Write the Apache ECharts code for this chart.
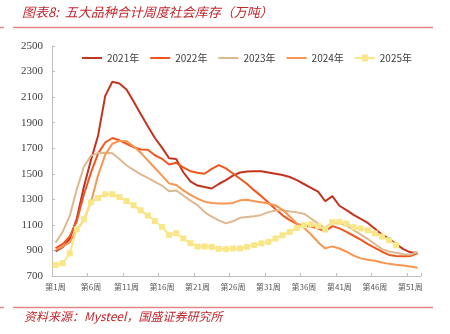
<!DOCTYPE html>
<html>
<head>
<meta charset="utf-8">
<script src="https://cdn.jsdelivr.net/npm/echarts@6/dist/echarts.min.js"></script>
<style>
html,body{margin:0;padding:0;background:#fff;}
#c{width:450px;height:334px;}
</style>
</head>
<body>
<div id="c"></div>
<script>
var weeks = [];
for (var i = 1; i <= 52; i++) weeks.push('第' + i + '周');

var seriesNames = ['2021年', '2022年', '2023年', '2024年', '2025年'];
var yTicks = {min: 700, max: 2500, step: 200};

var s2021 = [893, 925, 990, 1150, 1400, 1610, 1800, 2110, 2220, 2207,
  2160, 2065, 1968, 1872, 1780, 1705, 1622, 1615, 1512, 1440,
  1408, 1396, 1385, 1420, 1450, 1486, 1510, 1518, 1520, 1520,
  1510, 1500, 1490, 1475, 1450, 1420, 1390, 1360, 1285, 1325,
  1250, 1215, 1178, 1148, 1115, 1070, 1025, 990, 950, 910,
  885, 880];
var s2022 = [918, 950, 1010, 1130, 1340, 1510, 1660, 1745, 1780, 1762,
  1735, 1708, 1690, 1688, 1645, 1617, 1572, 1586, 1550, 1520,
  1508, 1500, 1538, 1568, 1542, 1502, 1461, 1420, 1370, 1325,
  1275, 1222, 1175, 1137, 1108, 1094, 1088, 1072, 1050, 1090,
  1073, 1045, 1015, 985, 950, 920, 890, 865, 857, 855,
  856, 877];
var s2023 = [960, 1045, 1170, 1380, 1555, 1642, 1662, 1664, 1660, 1615,
  1565, 1530, 1495, 1468, 1437, 1408, 1363, 1370, 1330, 1290,
  1255, 1200, 1165, 1135, 1112, 1128, 1155, 1162, 1167, 1178,
  1200, 1212, 1214, 1205, 1198, 1188, 1150, 1110, 1075, 1120,
  1112, 1095, 1058, 1025, 990, 950, 910, 892, 882, 870,
  867, 888];
var s2024 = [905, 930, 965, 1060, 1140, 1280, 1490, 1650, 1735, 1758,
  1755, 1715, 1665, 1605, 1545, 1485, 1425, 1412, 1370, 1335,
  1305, 1282, 1272, 1267, 1268, 1272, 1292, 1296, 1285, 1278,
  1268, 1252, 1218, 1165, 1112, 1078, 1025, 965, 916, 932,
  915, 890, 860, 838, 828, 820, 805, 795, 788, 782,
  775, 765];
var s2025 = [786, 800, 877, 1066, 1144, 1276, 1310, 1340, 1340, 1318,
  1287, 1253, 1214, 1173, 1131, 1084, 1022, 1035, 994, 957,
  931, 931, 928, 913, 910, 916, 916, 928, 941, 955,
  967, 994, 1019, 1045, 1076, 1097, 1105, 1090, 1064, 1123,
  1123, 1110, 1082, 1072, 1058, 1033, 1009, 980, 941];

var colors = ['#C3331E', '#F0571F', '#DDB891', '#F8964F', '#F8E688'];
var allData = [s2021, s2022, s2023, s2024, s2025];

var lineIcon = 'path://M0,3.1L20,3.1L20,4.9L0,4.9Z M0,0L0.01,0L0.01,0.01Z M19.99,8L20,8L20,7.99Z';
var markIcon = 'path://M0,3.1L20,3.1L20,4.9L0,4.9Z M7,0.5L13,0.5L13,7.5L7,7.5Z M0,0L0.01,0L0.01,0.01Z M19.99,8L20,8L20,7.99Z';

var series = allData.map(function (d, k) {
  var isLast = k === 4;
  return {
    name: seriesNames[k],
    type: 'line',
    data: d,
    symbol: isLast ? 'rect' : 'none',
    symbolSize: 6,
    showSymbol: isLast,
    showAllSymbol: true,
    smooth: false,
    lineStyle: {width: 2, color: colors[k]},
    itemStyle: {color: colors[k]},
    z: isLast ? 5 : 2 + k * 0.1
  };
});

var chart = echarts.init(document.getElementById('c'), null, {renderer: 'canvas'});
chart.setOption({
  animation: false,
  backgroundColor: '#ffffff',
  color: colors,
  grid: {left: 52, right: 29, top: 46, bottom: 58, containLabel: false},
  legend: {
    top: 48, left: 77,
    itemWidth: 20, itemHeight: 8, itemGap: 11,
    data: seriesNames.map(function (n, k) { return {name: n, icon: k === 4 ? markIcon : lineIcon}; }),
    textStyle: {fontSize: 10, color: '#404040', fontFamily: 'Noto Sans CJK SC'}
  },
  xAxis: {
    type: 'category',
    data: weeks,
    boundaryGap: true,
    axisLine: {lineStyle: {color: '#bfbfbf', width: 1}},
    axisTick: {show: true, inside: true, length: 3, interval: 4, lineStyle: {color: '#bfbfbf'}},
    axisLabel: {interval: 4, fontSize: 8, color: '#595959', margin: 7, fontFamily: 'Noto Sans CJK SC'},
    splitLine: {show: false}
  },
  yAxis: {
    type: 'value',
    min: yTicks.min, max: yTicks.max, interval: yTicks.step,
    axisLine: {show: true, lineStyle: {color: '#bfbfbf', width: 1}},
    axisTick: {show: true, inside: true, length: 3, lineStyle: {color: '#bfbfbf'}},
    axisLabel: {fontSize: 11, color: '#404040', margin: 9, fontFamily: 'Liberation Serif',
      formatter: function (v) { return String(v); }},
    splitLine: {show: false}
  },
  graphic: [
    {type: 'text', left: 22, top: 6, style: {text: '图表8:  五大品种合计周度社会库存（万吨）', fill: '#C0272D', fontSize: 13, fontStyle: 'italic', fontFamily: 'Noto Sans CJK SC'}},
    {type: 'line', shape: {x1: 13, y1: 27.5, x2: 433, y2: 27.5}, style: {stroke: '#E3868A', lineWidth: 1.5}},
    {type: 'line', shape: {x1: 0, y1: 27.5, x2: 4, y2: 27.5}, style: {stroke: '#E3868A', lineWidth: 1.5}},
    {type: 'line', shape: {x1: 13, y1: 307.5, x2: 433, y2: 307.5}, style: {stroke: '#E3868A', lineWidth: 1.5}},
    {type: 'line', shape: {x1: 0, y1: 307.5, x2: 4, y2: 307.5}, style: {stroke: '#E3868A', lineWidth: 1.5}},
    {type: 'text', left: 24, top: 310, style: {text: '资料来源：Mysteel，国盛证券研究所', fill: '#C0272D', fontSize: 12, fontStyle: 'italic', fontFamily: 'Noto Sans CJK SC'}}
  ],
  series: series
});
</script>
</body>
</html>
